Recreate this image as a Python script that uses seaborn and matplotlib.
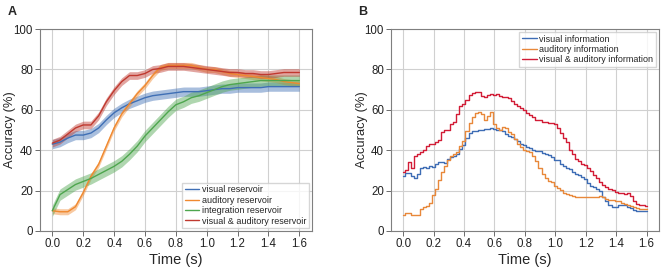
import numpy as np
import pandas as pd
import matplotlib
matplotlib.use('Agg')
import matplotlib.pyplot as plt
import seaborn as sns

sns.set_style("whitegrid")
plt.rcParams['font.family'] = ['Liberation Sans', 'DejaVu Sans']
plt.rcParams['axes.edgecolor'] = '#7f7f7f'
plt.rcParams['grid.color'] = '#d0d0d0'
plt.rcParams['xtick.bottom'] = True
plt.rcParams['ytick.left'] = True
plt.rcParams['xtick.color'] = '#555555'
plt.rcParams['ytick.color'] = '#555555'
plt.rcParams['xtick.labelcolor'] = '#222222'
plt.rcParams['ytick.labelcolor'] = '#222222'

# ====================== DATA: panel A (reservoirs) ======================
time_a = [0.00, 0.05, 0.10, 0.15, 0.20, 0.25, 0.30, 0.35, 0.40, 0.45, 0.50,
          0.55, 0.60, 0.65, 0.70, 0.75, 0.80, 0.85, 0.90, 0.95, 1.00, 1.05,
          1.10, 1.15, 1.20, 1.25, 1.30, 1.35, 1.40, 1.45, 1.50, 1.55, 1.60]

visual_res = [43, 44, 46, 47.5, 47.5, 48.5, 51, 55, 58.5, 61, 63,
              64.5, 66, 67, 67.5, 68, 68.5, 69, 69, 69, 69.5, 70,
              70.5, 70.5, 71, 71, 71, 71, 71.5, 71.5, 71.5, 71.5, 71.5]
auditory_res = [10, 9.5, 9.5, 12, 19, 27, 33, 42, 51, 58, 63,
                68, 72, 77, 81, 82, 82, 82, 82, 81, 80, 80,
                79, 78, 77.5, 77, 76.5, 76, 75.5, 75, 74, 73.5, 73]
integration_res = [10, 18, 20.5, 23, 24.5, 26, 28, 30, 32, 34.5, 38,
                   42, 47, 51, 55, 59, 62.5, 64, 66, 67, 68.5, 70,
                   71.5, 72.5, 73, 73.5, 74, 74.5, 74.5, 74.5, 74.5, 74.5, 74.5]
va_res = [43.5, 45, 48, 51, 52.5, 52.5, 57, 64, 69.5, 74, 77,
          77, 78, 80, 80.5, 81.5, 81.5, 81.5, 81, 80.5, 80, 79.5,
          79, 78.5, 78.5, 78, 78, 77.5, 77.5, 78, 78.5, 78.5, 78.5]
# half-width of the shaded band for each reservoir
band_a = [2.3, 1.5, 2.8, 1.9]

labels_a = ['visual reservoir', 'auditory reservoir',
            'integration reservoir', 'visual & auditory reservoir']

# ====================== DATA: panel B (information) ======================
time_b = [round(0.02 * i, 2) for i in range(81)]

visual_info = [27, 28.5, 28.5, 27, 26, 28, 31, 31.5, 31, 32,
               31.5, 33, 34, 34, 33.5, 35.5, 36.5, 37, 38, 40.5,
               42.5, 46, 48.5, 49.5, 49.5, 50, 50, 50.5, 50.5, 51,
               50.5, 50, 50, 49.5, 48, 47, 46.5, 45.5, 44.5, 43,
               42.5, 41.5, 41, 40, 39.5, 39.5, 38.5, 38, 37.5, 36.5,
               35, 35, 33, 32, 31, 30.5, 29, 28, 27.5, 26.5,
               25.5, 23.5, 22.5, 22, 21, 20, 17, 15, 13, 12,
               12, 13, 13, 13, 12, 11.5, 10.5, 10, 10, 10, 10]
auditory_info = [8, 9, 9, 8, 8, 8, 11, 12, 12.5, 14,
                 18, 21, 25, 29, 32, 35, 37, 38, 39, 42,
                 44.5, 49.5, 53.5, 56.5, 58.5, 59, 58, 55, 57, 59,
                 53, 51, 50, 51.5, 51, 49, 48, 45.5, 43, 41.5,
                 40, 39.5, 39, 37, 34.5, 31, 28, 26, 24.5, 24,
                 22.5, 21.5, 20.5, 19, 18.5, 18, 17.5, 17, 17, 17,
                 17, 17, 17, 17, 17, 17.5, 17, 16, 15.5, 15.5,
                 15, 15, 14, 13.5, 13, 12.5, 12, 11.5, 11, 11, 11]
va_info = [29, 30, 34, 31, 37, 38, 39, 40, 42, 43,
           43, 44, 45, 49, 50, 50, 53, 54, 58, 62,
           63, 65, 67.5, 68.5, 69, 69, 67, 66.5, 67.5, 68,
           67.5, 68, 67, 66.5, 66.5, 66, 64.5, 63, 62, 61,
           60, 58.5, 57.5, 56.5, 55, 55, 54, 54, 53.5, 53.5,
           53, 51, 48.5, 46, 44, 40, 38, 35.5, 34.5, 33,
           32.5, 31, 29.5, 27.5, 26, 24, 23, 22, 21, 20.5,
           19.5, 19, 19, 18.5, 19, 17.5, 15, 13.5, 13, 13, 12.5]

labels_b = ['visual information', 'auditory information',
            'visual & auditory information']

colors_a = ['#3f6fb5', '#f0892f', '#4ea64e', '#c0392f']
colors_b = ['#3e6db5', '#e8883a', '#d21c36']

# ====================== FIGURE ======================
fig = plt.figure(figsize=(6.66, 2.72), dpi=100)
ax_a = fig.add_axes([0.060, 0.151, 0.408, 0.742])
ax_b = fig.add_axes([0.587, 0.151, 0.402, 0.742])

series_a = [visual_res, auditory_res, integration_res, va_res]
for vals, lab, col, bw in zip(series_a, labels_a, colors_a, band_a):
    v = np.array(vals)
    ax_a.fill_between(time_a, v - bw, v + bw, color=col, alpha=0.45, lw=0)
    sns.lineplot(x=time_a, y=vals, ax=ax_a, color=col, lw=1.0, label=lab)

series_b = [visual_info, auditory_info, va_info]
for vals, lab, col in zip(series_b, labels_b, colors_b):
    sns.lineplot(x=time_b, y=vals, ax=ax_b, color=col, lw=1.0, label=lab,
                 drawstyle='steps-mid')

for ax in (ax_a, ax_b):
    ax.set_xlim(-0.08, 1.68)
    ax.set_ylim(0, 100)
    ax.set_xticks(np.arange(0, 1.61, 0.2))
    ax.set_xticklabels([f'{t:.1f}' for t in np.arange(0, 1.61, 0.2)])
    ax.set_yticks(range(0, 101, 20))
    ax.tick_params(labelsize=8.3, length=3.5, width=0.6, pad=1.5)
    ax.set_xlabel('Time (s)', fontsize=10.5, labelpad=2)
    ax.set_ylabel('Accuracy (%)', fontsize=9.3)
    ax.yaxis.set_label_coords(-0.087, 0.5)
    for s in ax.spines.values():
        s.set_linewidth(0.8)

ax_a.legend(loc='lower right', fontsize=6.5, handlelength=1.6, handletextpad=0.3,
            borderpad=0.3, labelspacing=0.15, frameon=True, fancybox=False,
            edgecolor='#cccccc', borderaxespad=0.3)
ax_b.legend(loc='upper right', fontsize=6.5, handlelength=1.6, handletextpad=0.3,
            borderpad=0.3, labelspacing=0.15, frameon=True, fancybox=False,
            edgecolor='#cccccc', borderaxespad=0.3)

fig.text(0.012, 0.955, 'A', fontsize=9, fontweight='bold', va='center')
fig.text(0.537, 0.955, 'B', fontsize=9, fontweight='bold', va='center')

plt.savefig('out.png', dpi=100)
